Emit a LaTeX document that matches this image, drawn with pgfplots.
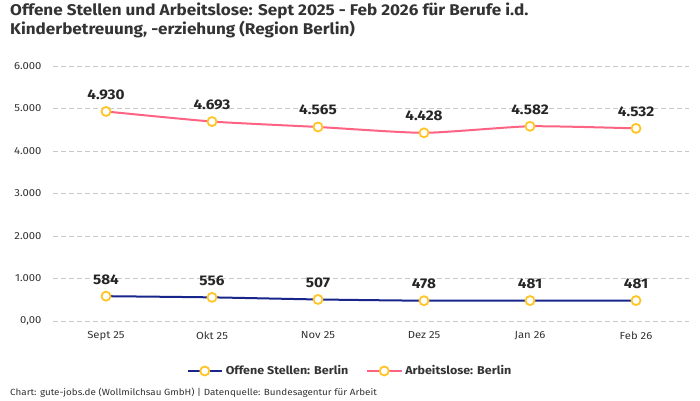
\documentclass[border=0pt]{standalone}
\usepackage{fontspec}
\setmainfont{Fira Sans}[FakeStretch=1.1]
\usepackage{pgfplots}
\pgfplotsset{compat=1.18}
\definecolor{blueS}{RGB}{24,38,140}
\definecolor{pinkS}{RGB}{255,99,132}
\definecolor{markY}{RGB}{255,197,38}
\definecolor{gridG}{RGB}{200,200,200}
\definecolor{txt}{RGB}{51,51,51}
\begin{document}
\begin{tikzpicture}[x=1bp,y=1bp]
\path[use as bounding box, fill=white] (0,0) rectangle (700,400);
\node[anchor=north west, align=left, font=\bfseries\fontsize{15.6}{19}\selectfont, text=txt, inner sep=0] at (10,397) {Offene Stellen und Arbeitslose: Sept 2025 - Feb 2026 für Berufe i.d.\\Kinderbetreuung, -erziehung (Region Berlin)};
\node[anchor=west, font=\fontsize{9}{11}\selectfont, text=txt, inner sep=0] at (10,7) {Chart: gute-jobs.de (Wollmilchsau GmbH) | Datenquelle: Bundesagentur für Arbeit};
\begin{axis}[at={(53bp,79bp)}, anchor=south west, scale only axis,
  width=636bp, height=255bp,
  xmin=-0.5, xmax=5.5, ymin=0, ymax=6000,
  axis line style={draw=none}, tick style={draw=none},
  ytick={0,1000,2000,3000,4000,5000,6000},
  yticklabels={{0,00},{1.000},{2.000},{3.000},{4.000},{5.000},{6.000}},
  xtick={0,1,2,3,4,5},
  xticklabels={Sept 25,Okt 25,Nov 25,Dez 25,Jan 26,Feb 26},
  ticklabel style={font=\fontsize{10.3}{12}\selectfont, text=txt},
  yticklabel style={xshift=-8bp},
  xticklabel style={yshift=-7bp},
  ymajorgrids, grid style={gridG, dash pattern=on 5bp off 3bp, line width=0.8bp},
  point meta=y,
  nodes near coords={\pgfmathprintnumber[assume math mode=true,1000 sep={.}]{\pgfplotspointmeta}},
  nodes near coords style={font=\bfseries\fontsize{14}{15}\selectfont, text=black!85, anchor=south, inner sep=0, yshift=11bp},
  every axis plot/.append style={line width=2bp, smooth, tension=0.35,
     mark=*, mark size=4.5bp, mark options={fill=white, draw=markY, line width=1.8bp}},
  legend columns=2,
  legend style={at={(0.467,-0.196)}, anchor=center, draw=none, fill=none,
     font=\bfseries\fontsize{11.4}{14}\selectfont, text=txt,
     nodes={inner xsep=2bp},
     /tikz/every odd column/.append style={column sep=1bp},
     /tikz/every even column/.append style={column sep=16bp}},
  legend image code/.code={\draw[mark repeat=2,mark phase=2] plot coordinates {(0bp,0bp) (17bp,0bp) (34bp,0bp)};},
  clip=false,
]
\addplot[blueS] coordinates {(0,584) (1,556) (2,507) (3,478) (4,481) (5,481)};
\addlegendentry{Offene Stellen: Berlin}
\addplot[pinkS] coordinates {(0,4930) (1,4693) (2,4565) (3,4428) (4,4582) (5,4532)};
\addlegendentry{Arbeitslose: Berlin}
\end{axis}
\end{tikzpicture}
\end{document}
